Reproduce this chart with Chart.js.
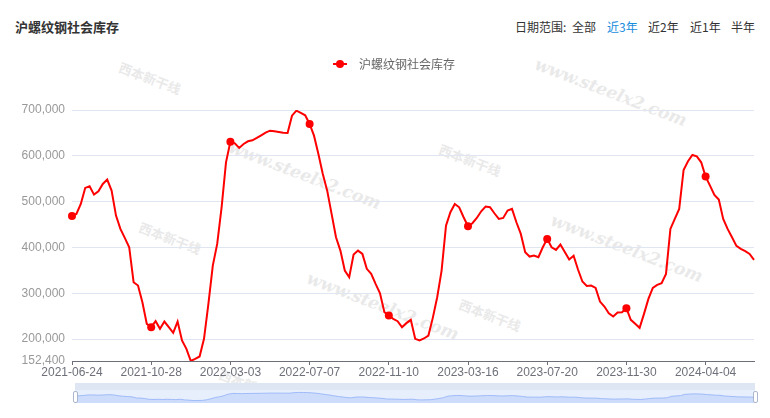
<!DOCTYPE html>
<html>
<head>
<meta charset="utf-8">
<title>沪螺纹钢社会库存</title>
<script src="https://cdn.jsdelivr.net/npm/chart.js@4.4.0/dist/chart.umd.min.js"></script>
<style>
    body { margin: 0; background: #fff; }
    #wrap { position: relative; width: 770px; height: 418px; overflow: hidden; font-family: "Noto Sans CJK SC", sans-serif; }
    #title { position: absolute; left: 15px; top: 18px; font-size: 13px; line-height: 18px; font-weight: bold; color: #333; }
    .rng { position: absolute; top: 19px; font-size: 12px; line-height: 16px; color: #333; white-space: nowrap; }
    .rng.on { color: #1a8cdc; }
    .wm { position: absolute; white-space: nowrap; color: #d4d4d4; opacity: 0.5; transform-origin: center; }
    .wm.url { font: italic bold 17px "DejaVu Serif", serif; transform: translate(-50%, -50%) rotate(21deg); }
    .wm.logo { font: bold 13px "Noto Sans CJK SC", sans-serif; transform: translate(-50%, -50%) rotate(21deg); }
    #main { position: absolute; left: 0; top: 0; }
    #zoomBar { position: absolute; left: 75px; top: 383px; width: 680px; height: 7px; background: #dfe6f3; }
    #zoomArea { position: absolute; left: 75px; top: 390px; width: 680px; height: 13px; background: #e7eefc; }
    #shadow { position: absolute; left: 75px; top: 390px; }
    .handle { position: absolute; top: 391px; width: 3px; height: 10px; background: #fff; border: 1px solid #aab6cc; border-radius: 2px; }
</style>
</head>
<body>
<div id="wrap">
    <div class="wm logo" style="left:150px; top:78px;">西本新干线</div>
    <div class="wm logo" style="left:170px; top:238px;">西本新干线</div>
    <div class="wm logo" style="left:470px; top:160px;">西本新干线</div>
    <div class="wm logo" style="left:490px; top:315px;">西本新干线</div>
    <div class="wm logo" style="left:250px; top:385px;">西本新干线</div>
    <div class="wm url" style="left:305px; top:175px;">www.steelx2.com</div>
    <div class="wm url" style="left:383px; top:306px;">www.steelx2.com</div>
    <div class="wm url" style="left:627px; top:248px;">www.steelx2.com</div>
    <div class="wm url" style="left:611px; top:92px;">www.steelx2.com</div>

    <div id="title">沪螺纹钢社会库存</div>
    <div class="rng" style="left:515px;">日期范围:</div>
    <div class="rng" style="left:572px;">全部</div>
    <div class="rng on" style="left:607px;">近3年</div>
    <div class="rng" style="left:648px;">近2年</div>
    <div class="rng" style="left:690px;">近1年</div>
    <div class="rng" style="left:731px;">半年</div>

    <canvas id="main" width="770" height="418"></canvas>

    <div id="zoomBar"></div>
    <div id="zoomArea"></div>
    <canvas id="shadow" width="680" height="13"></canvas>
    <div class="handle" style="left:73px;"></div>
    <div class="handle" style="left:753px;"></div>
</div>

<script>
// weekly readings (Thursdays) from 2021-06-24; the National Day week of 2023 has no reading
const startDate = '2021-06-24';
const skippedWeeks = ['2023-10-05'];
const labelEvery = 18;
const seriesName = '沪螺纹钢社会库存';

const stockValues = [
    468900, 473300, 495100, 530000, 533600, 515400, 522700, 538700, 548100, 524100,
    469600, 440600, 420900, 400600, 324300, 317000, 280700, 233500, 226200, 239300,
    222500, 238500, 226200, 213800, 238500, 197100, 178900, 152400, 157200, 162300,
    200800, 277000, 360600, 407900, 487800, 585900, 631000, 627300, 617200, 625900,
    631700, 633900, 639000, 644800, 650600, 654900, 653500, 652000, 650600, 649900,
    687600, 698500, 693500, 688400, 669500, 644000, 604100, 560500, 524100, 473300,
    422400, 393300, 349700, 335200, 384600, 393300, 386100, 353400, 342500, 320700,
    300300, 258900, 251600, 244400, 239300, 226200, 235000, 242200, 200800, 197100,
    201500, 208000, 246500, 291600, 349700, 447800, 476900, 495100, 487800, 466000,
    446400, 452900, 464500, 479100, 489300, 487800, 474700, 462400, 464500, 480600,
    484200, 455100, 429700, 389700, 380300, 382400, 378800, 400600, 418800, 400600,
    394800, 406400, 390000, 374000, 382000, 352000, 325700, 316300, 317000, 311900,
    282100, 271300, 256700, 249400, 258200, 258900, 267600, 242200, 233500, 224700,
    255300, 288000, 312000, 318500, 322100, 342500, 440600, 462400, 484200, 569200,
    588100, 601900, 599000, 585900, 554700, 535000, 514700, 504500, 462400, 440600,
    422400, 403500, 397000, 391900, 386100, 373000
];

const yTicks = [152400, 200000, 300000, 400000, 500000, 600000, 700000];

function buildWeeks(start, count, skip) {
    const out = [];
    const d = new Date(start + 'T00:00:00Z');
    while (out.length < count) {
        const s = d.toISOString().slice(0, 10);
        if (skip.indexOf(s) === -1) out.push(s);
        d.setUTCDate(d.getUTCDate() + 7);
    }
    return out;
}

const weekLabels = buildWeeks(startDate, stockValues.length, skippedWeeks);

// legend icon: short line with a dot, like the original
function legendIcon() {
    const c = document.createElement('canvas');
    c.width = 54;
    c.height = 10;
    const g = c.getContext('2d');
    g.strokeStyle = '#ff0000';
    g.lineWidth = 2;
    g.beginPath();
    g.moveTo(34, 5);
    g.lineTo(48, 5);
    g.stroke();
    g.fillStyle = '#ff0000';
    g.beginPath();
    g.arc(41, 5, 4, 0, Math.PI * 2);
    g.fill();
    return c;
}

const legendGap = {
    id: 'legendGap',
    beforeInit(chart) {
        const fit = chart.legend.fit;
        chart.legend.fit = function() {
            fit.bind(chart.legend)();
            this.height += 30;
        };
    }
};

const numFont = { family: 'Liberation Sans', size: 12 };

new Chart(document.getElementById('main').getContext('2d'), {
    type: 'line',
    data: {
        labels: weekLabels,
        datasets: [{
            label: seriesName,
            data: stockValues,
            borderColor: '#ff0000',
            backgroundColor: '#ff0000',
            borderWidth: 2,
            tension: 0,
            pointRadius: ctx => (ctx.dataIndex % labelEvery === 0 ? 4 : 0),
            pointHoverRadius: 4,
            pointBorderWidth: 0
        }]
    },
    options: {
        responsive: false,
        animation: false,
        layout: { padding: { top: 48, right: 16, bottom: 37, left: 0 } },
        plugins: {
            legend: {
                labels: {
                    usePointStyle: true,
                    pointStyle: legendIcon(),
                    pointStyleWidth: 54,
                    padding: 10,
                    color: '#666',
                    font: { family: 'Noto Sans CJK SC', size: 12 }
                }
            },
            tooltip: { enabled: false }
        },
        scales: {
            x: {
                grid: { display: true, drawOnChartArea: false, drawTicks: true, tickLength: 4, color: '#6E7079' },
                border: { color: '#6E7079' },
                ticks: {
                    autoSkip: false,
                    maxRotation: 0,
                    padding: 0,
                    color: '#6E7079',
                    font: numFont,
                    callback: function(value) {
                        return this.getLabelForValue(value);
                    }
                },
                afterBuildTicks: axis => {
                    axis.ticks = axis.ticks.filter(t => t.value % labelEvery === 0);
                },
                afterFit: axis => { axis.height = 20; }
            },
            y: {
                min: 152400,
                max: 700000,
                afterBuildTicks: axis => {
                    axis.ticks = yTicks.map(v => ({ value: v }));
                },
                grid: {
                    color: c => (c.tick && c.tick.value === 152400 ? 'rgba(0,0,0,0)' : '#E0E6F1'),
                    drawTicks: false
                },
                border: { display: false },
                ticks: {
                    color: '#999',
                    padding: 7,
                    font: numFont,
                    callback: v => v.toLocaleString('en-US')
                },
                afterFit: axis => { axis.width = 72; }
            }
        }
    },
    plugins: [legendGap]
});

// data shadow inside the zoom slider
const lo = Math.min(...stockValues);
const hi = Math.max(...stockValues);
const pad = (hi - lo) * 0.3;

new Chart(document.getElementById('shadow').getContext('2d'), {
    type: 'line',
    data: {
        labels: weekLabels,
        datasets: [{
            data: stockValues,
            borderColor: '#8fb0f7',
            borderWidth: 0.8,
            backgroundColor: 'rgba(143, 176, 247, 0.28)',
            fill: 'start',
            pointRadius: 0,
            tension: 0
        }]
    },
    options: {
        responsive: false,
        animation: false,
        layout: { padding: 0 },
        plugins: { legend: { display: false }, tooltip: { enabled: false } },
        scales: {
            x: { display: false },
            y: { display: false, min: lo - pad, max: hi + pad }
        }
    }
});
</script>
</body>
</html>
